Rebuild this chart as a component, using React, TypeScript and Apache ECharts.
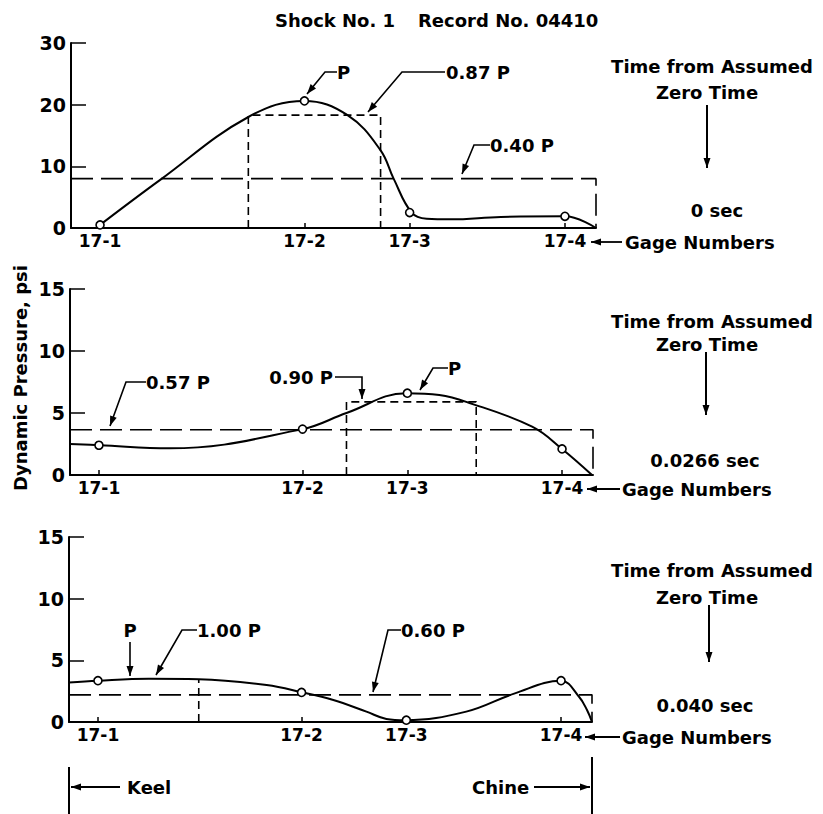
import React, { useEffect, useRef } from "react";
import * as echarts from "echarts";

// ---------- data ----------
const GAGE_LABELS = ["17-1", "17-2", "17-3", "17-4"];
const GAGE_POS = [29, 233, 338, 493];
const CHINE_POS = 524;

// Panel 1 (0 sec)
const topCurveX = [29, 89, 177, 233, 276, 309, 322, 340, 355, 379, 429, 493, 524];
const topCurveY = [0.5, 7.8, 18, 20.6, 18.3, 12.6, 8.0, 2.5, 1.5, 1.4, 1.8, 1.9, 0];
const topGageValues = [0.5, 20.6, 2.5, 1.9];
const topBoxX = [177, 177, 309, 309];
const topBoxY = [0, 18.3, 18.3, 0];
const topAvgLevel = 8.0;

// Panel 2 (0.0266 sec)
const midCurveX = [0, 30, 100, 233, 277, 337, 370, 397, 463, 493, 523];
const midCurveY = [2.5, 2.4, 2.15, 3.7, 5.0, 6.6, 6.45, 5.9, 3.9, 2.1, 0];
const midGageValues = [2.4, 3.7, 6.6, 2.1];
const midBoxX = [277, 277, 407, 407];
const midBoxY = [0, 5.9, 5.9, 0];
const midAvgLevel = 3.65;

// Panel 3 (0.040 sec)
const botCurveX = [0, 29, 80, 130, 198, 234, 264, 298, 318, 337, 398, 446, 493, 511, 519, 524];
const botCurveY = [3.2, 3.35, 3.5, 3.46, 3.0, 2.4, 1.8, 0.84, 0.25, 0.15, 0.84, 2.3, 3.35, 2.05, 0.97, 0];
const botGageValues = [3.35, 2.4, 0.15, 3.35];
const botBoxX = [130, 130];
const botBoxY = [0, 3.46];
const botAvgLevel = 2.2;

const yMaxes = [30, 15, 15];
const yIntervals = [10, 5, 5];
const times = ["0 sec", "0.0266 sec", "0.040 sec"];

// ---------- helpers ----------
const FONT = "DejaVu Sans";
const FS = 18;
const zip = (xs: number[], ys: number[]) => xs.map((x, i) => [x, ys[i]]);

function arrowHead(x1: number, y1: number, x2: number, y2: number, head = 10, w = 3.5) {
  const dx = x2 - x1, dy = y2 - y1;
  const len = Math.hypot(dx, dy);
  const ux = dx / len, uy = dy / len;
  const bx = x2 - ux * head, by = y2 - uy * head;
  const px = -uy, py = ux;
  return {
    type: "polygon",
    shape: { points: [[x2, y2], [bx + px * w, by + py * w], [bx - px * w, by - py * w]] },
    style: { fill: "#000" },
    silent: true,
  };
}
function leader(points: number[][], lineWidth = 1.6) {
  const n = points.length;
  const [x1, y1] = points[n - 2];
  const [x2, y2] = points[n - 1];
  return [
    { type: "polyline", shape: { points }, style: { stroke: "#000", lineWidth, fill: "none" }, silent: true },
    arrowHead(x1, y1, x2, y2),
  ];
}
function txt(text: string, x: number, y: number, align = "left", size = FS, extra: any = {}) {
  return {
    type: "text",
    x,
    y,
    silent: true,
    ...extra,
    style: {
      text,
      fill: "#000",
      font: `bold ${size}px "${FONT}"`,
      textAlign: align,
      textVerticalAlign: "middle",
    },
  };
}

export default function App() {
  const ref = useRef<HTMLDivElement>(null);
  useEffect(() => {
    if (!ref.current) return;
    const chart = echarts.init(ref.current, null, { renderer: "svg" });

    const grids = [
      { left: 71, top: 43, width: 525, height: 185 },
      { left: 70, top: 289, width: 523, height: 186 },
      { left: 69, top: 537, width: 523, height: 185 },
    ];

    const xAxes = grids.map((_, i) => ({
      type: "value",
      gridIndex: i,
      min: 0,
      max: CHINE_POS,
      splitLine: { show: false },
      axisLine: { show: true, lineStyle: { color: "#000", width: 2 } },
      axisTick: {
        show: true,
        inside: true,
        length: 5,
        customValues: GAGE_POS,
        lineStyle: { color: "#000", width: 1.5 },
      },
      axisLabel: {
        show: true,
        customValues: GAGE_POS,
        formatter: (v: number) => GAGE_LABELS[GAGE_POS.indexOf(v)] ?? "",
        margin: 4,
        color: "#000",
        fontFamily: FONT,
        fontWeight: "bold",
        fontSize: 17,
      },
    }));

    const yAxes = grids.map((_, i) => ({
      type: "value",
      gridIndex: i,
      min: 0,
      max: yMaxes[i],
      interval: yIntervals[i],
      splitLine: { show: false },
      axisLine: { show: true, lineStyle: { color: "#000", width: 2 } },
      axisTick: { show: true, inside: true, length: 15, lineStyle: { color: "#000", width: 1.5 } },
      axisLabel: {
        margin: 5,
        color: "#000",
        fontFamily: FONT,
        fontWeight: "bold",
        fontSize: 19,
      },
    }));

    const curve = (i: number, xs: number[], ys: number[]) => ({
      type: "line",
      xAxisIndex: i,
      yAxisIndex: i,
      data: zip(xs, ys),
      smooth: 0.4,
      showSymbol: false,
      symbol: "none",
      lineStyle: { color: "#000", width: 2 },
      z: 3,
    });
    const gagePts = (i: number, ys: number[]) => ({
      type: "scatter",
      xAxisIndex: i,
      yAxisIndex: i,
      data: zip(GAGE_POS, ys),
      symbol: "circle",
      symbolSize: 8,
      itemStyle: { color: "#fff", borderColor: "#000", borderWidth: 1.6, opacity: 1 },
      z: 5,
    });
    const dashed = (i: number, data: number[][], dash: number[], w = 1.6) => ({
      type: "line",
      xAxisIndex: i,
      yAxisIndex: i,
      data,
      smooth: false,
      symbol: "none",
      lineStyle: { color: "#000", width: w, type: dash },
      z: 2,
    });
    const LONG = [22, 8];
    const SHORT = [8, 5];

    const series: any[] = [
      curve(0, topCurveX, topCurveY),
      gagePts(0, topGageValues),
      dashed(0, zip(topBoxX, topBoxY), SHORT),
      dashed(0, [[0, topAvgLevel], [CHINE_POS, topAvgLevel], [CHINE_POS, 0]], LONG),

      curve(1, midCurveX, midCurveY),
      gagePts(1, midGageValues),
      dashed(1, zip(midBoxX, midBoxY), SHORT),
      dashed(1, [[0, midAvgLevel], [CHINE_POS, midAvgLevel], [CHINE_POS, 0]], LONG),

      curve(2, botCurveX, botCurveY),
      gagePts(2, botGageValues),
      dashed(2, zip(botBoxX, botBoxY), SHORT),
      dashed(2, [[0, botAvgLevel], [CHINE_POS, botAvgLevel], [CHINE_POS, 0]], LONG),
    ];

    const rightBlocks = [
      { time: 66, zero: 92, a1: 105, a2: 168, ax: 707, sec: 210, secX: 717, gage: 242, gA: 622, gB: 591, gText: 625 },
      { time: 321, zero: 344, a1: 352, a2: 415, ax: 706, sec: 460, secX: 705, gage: 489, gA: 620, gB: 587, gText: 622 },
      { time: 570, zero: 597, a1: 605, a2: 662, ax: 709, sec: 705, secX: 705, gage: 737, gA: 620, gB: 585, gText: 622 },
    ];

    const graphics: any[] = [
      txt("Shock No. 1", 275, 20),
      txt("Record No. 04410", 418, 20),
      txt("Dynamic Pressure, psi", 20, 378, "center", FS, { rotation: Math.PI / 2 }),
    ];
    rightBlocks.forEach((b, i) => {
      graphics.push(txt("Time from Assumed", 712, b.time, "center"));
      graphics.push(txt("Zero Time", 707, b.zero, "center"));
      graphics.push(...leader([[b.ax, b.a1], [b.ax, b.a2]], 2));
      graphics.push(txt(times[i], b.secX, b.sec, "center"));
      graphics.push(...leader([[b.gA, b.gage], [b.gB, b.gage]], 1.8));
      graphics.push(txt("Gage Numbers", b.gText, b.gage));
    });

    // panel 1 annotations
    graphics.push(txt("P", 337, 72));
    graphics.push(...leader([[337, 72], [325, 72], [307, 94]]));
    graphics.push(txt("0.87 P", 446, 72));
    graphics.push(...leader([[445, 72], [402, 72], [368, 112]]));
    graphics.push(txt("0.40 P", 490, 145));
    graphics.push(...leader([[490, 145], [474, 145], [462, 174]]));

    // panel 2 annotations
    graphics.push(txt("0.57 P", 146, 382));
    graphics.push(...leader([[146, 382], [126, 382], [110, 426]]));
    graphics.push(txt("0.90 P", 333, 377, "right"));
    graphics.push(...leader([[335, 377], [362, 377], [362, 399]]));
    graphics.push(txt("P", 448, 368));
    graphics.push(...leader([[448, 368], [433, 368], [420, 390]]));

    // panel 3 annotations
    graphics.push(txt("P", 130, 630, "center"));
    graphics.push(...leader([[130, 642], [130, 676]]));
    graphics.push(txt("1.00 P", 197, 630));
    graphics.push(...leader([[197, 630], [182, 630], [156, 675]]));
    graphics.push(txt("0.60 P", 401, 630));
    graphics.push(...leader([[401, 630], [388, 630], [373, 692]]));

    // keel / chine
    graphics.push({ type: "line", shape: { x1: 69, y1: 767, x2: 69, y2: 814 }, style: { stroke: "#000", lineWidth: 2 }, silent: true });
    graphics.push(...leader([[120, 787], [71, 787]], 1.8));
    graphics.push(txt("Keel", 127, 787));
    graphics.push({ type: "line", shape: { x1: 592, y1: 757, x2: 592, y2: 814 }, style: { stroke: "#000", lineWidth: 2 }, silent: true });
    graphics.push(txt("Chine", 472, 787));
    graphics.push(...leader([[534, 787], [590, 787]], 1.8));

    chart.setOption({
      animation: false,
      backgroundColor: "#fff",
      grid: grids,
      xAxis: xAxes,
      yAxis: yAxes,
      series,
      graphic: graphics,
    });
    return () => chart.dispose();
  }, []);
  return (
    <div
      ref={ref}
      style={{ position: "fixed", left: 0, top: 0, width: 823, height: 814, background: "#fff" }}
    />
  );
}
